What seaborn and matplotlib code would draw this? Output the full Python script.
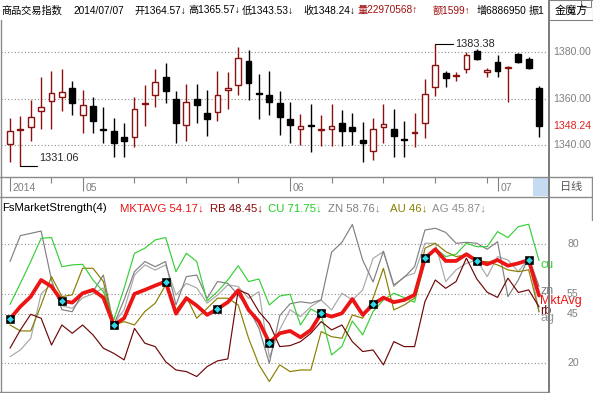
import numpy as np
import pandas as pd
import matplotlib
matplotlib.use('Agg')
import matplotlib.pyplot as plt
import matplotlib.transforms as mtrans
from matplotlib.lines import Line2D
from matplotlib.patches import Rectangle
import seaborn as sns

# daily candles, 2014-04-22 .. 2014-07-07
opens = [1340.4, 1346.7, 1348.0, 1354.6, 1358.9, 1360.6, 1364.5, 1353.2, 1356.9, 1347.1,
         1346.2, 1343.6, 1343.4, 1357.9, 1361.5, 1369.2, 1359.8, 1348.6, 1359.8, 1353.8,
         1354.3, 1363.7, 1366.1, 1376.1, 1362.6, 1361.5, 1358.1, 1351.2, 1346.9, 1348.9,
         1346.8, 1346.9, 1349.7, 1347.7, 1342.3, 1337.6, 1348.0, 1346.9, 1342.9, 1345.4,
         1349.5, 1365.2, 1371.0, 1369.8, 1372.7, 1380.7, 1371.5, 1375.7, 1373.2, 1379.3,
         1377.1, 1364.57]
highs = [1351.6, 1352.6, 1359.5, 1369.5, 1372.1, 1372.7, 1367.7, 1363.8, 1360.6, 1356.3,
         1351.6, 1349.5, 1360.6, 1366.0, 1372.7, 1375.3, 1363.4, 1366.4, 1366.4, 1363.8,
         1372.0, 1371.5, 1382.2, 1381.0, 1370.7, 1372.0, 1363.4, 1358.8, 1353.3, 1357.8,
         1353.0, 1357.6, 1355.2, 1353.8, 1350.0, 1351.8, 1357.6, 1355.5, 1350.5, 1353.8,
         1368.4, 1383.38, 1372.1, 1371.4, 1380.0, 1381.3, 1373.4, 1378.7, 1374.1, 1379.7,
         1377.8, 1365.57]
lows = [1333.0, 1331.06, 1342.0, 1347.2, 1347.2, 1354.9, 1353.2, 1345.2, 1345.4, 1340.9,
        1335.1, 1334.8, 1339.4, 1348.3, 1356.6, 1358.1, 1341.1, 1341.7, 1349.7, 1344.0,
        1350.6, 1355.8, 1361.8, 1359.5, 1351.5, 1353.2, 1344.5, 1341.1, 1340.1, 1337.2,
        1339.7, 1339.7, 1339.7, 1340.0, 1333.0, 1333.7, 1340.9, 1335.0, 1335.0, 1339.1,
        1343.0, 1361.2, 1365.2, 1367.7, 1371.0, 1376.7, 1369.2, 1369.2, 1358.8, 1375.3,
        1372.7, 1343.53]
closes = [1346.2, 1347.1, 1352.0, 1356.3, 1362.4, 1362.9, 1358.4, 1357.2, 1350.6, 1346.8,
          1340.9, 1341.7, 1355.5, 1358.3, 1367.2, 1363.5, 1349.7, 1358.6, 1357.5, 1351.2,
          1361.5, 1364.7, 1377.6, 1366.7, 1362.2, 1358.8, 1352.4, 1348.9, 1348.3, 1348.5,
          1347.2, 1348.5, 1346.3, 1346.3, 1340.9, 1346.9, 1349.0, 1344.2, 1342.5, 1345.8,
          1361.9, 1374.4, 1368.8, 1370.2, 1378.7, 1377.0, 1372.4, 1372.1, 1373.6, 1376.0,
          1373.4, 1348.24]

# FsMarketStrength(4)
mktavg = [42.4, 48.6, 53.6, 62.0, 58.7, 51.4, 50.6, 55.3, 57.0, 53.1, 39.3, 42.7, 55.0,
          57.0, 59.2, 61.2, 45.0, 52.8, 49.1, 44.4, 47.4, 50.8, 56.8, 46.9, 41.0, 30.4,
          35.1, 36.3, 33.1, 36.8, 45.2, 43.5, 45.2, 52.4, 44.4, 49.7, 53.1, 50.8, 51.9,
          54.5, 72.9, 77.5, 71.6, 71.6, 75.0, 71.6, 69.9, 72.1, 69.2, 70.4, 72.1, 54.17]
rb = [27.6, 36.8, 44.7, 42.7, 29.2, 39.3, 35.1, 39.3, 34.3, 27.6, 25.0, 21.7, 37.6,
      30.1, 28.4, 20.8, 16.6, 15.8, 13.3, 18.3, 21.2, 22.2, 57.0, 54.8, 46.0, 40.0,
      28.4, 28.9, 30.9, 35.1, 41.0, 36.8, 39.3, 30.9, 25.9, 26.7, 19.2, 30.9, 28.4,
      28.4, 51.1, 62.0, 57.8, 61.2, 73.0, 62.5, 55.8, 53.2, 62.9, 55.7, 57.0, 48.45]
cu = [49.7, 60.3, 71.3, 83.0, 83.4, 68.7, 69.6, 69.9, 62.0, 56.1, 41.8, 57.8, 75.5,
      78.0, 82.2, 83.4, 66.2, 75.5, 71.3, 51.4, 56.1, 62.0, 69.2, 61.2, 62.5, 49.4,
      53.9, 54.8, 39.3, 47.4, 44.4, 24.2, 28.5, 41.3, 34.3, 46.1, 51.9, 55.3, 53.1,
      50.8, 71.3, 78.0, 73.8, 75.0, 80.5, 78.8, 78.8, 86.4, 83.4, 88.9, 90.1, 71.75]
zn = [71.3, 84.4, 85.5, 86.7, 62.0, 47.0, 46.0, 55.3, 56.1, 64.5, 39.3, 52.0, 66.2,
      71.3, 68.7, 71.3, 49.4, 63.7, 64.5, 52.7, 61.2, 60.3, 54.4, 47.7, 37.6, 20.0,
      44.0, 50.0, 51.0, 50.3, 52.0, 76.0, 81.0, 90.0, 72.0, 61.0, 76.5, 59.5, 63.3,
      68.7, 87.2, 88.1, 86.0, 80.5, 81.0, 80.5, 77.5, 81.3, 53.6, 62.0, 73.3, 58.76]
au = [39.3, 36.3, 36.3, 49.4, 63.7, 53.6, 54.5, 67.9, 67.9, 61.2, 39.3, 41.0, 39.3,
      46.1, 50.3, 59.5, 46.9, 53.6, 42.7, 47.7, 52.8, 52.8, 49.4, 32.6, 19.2, 10.8,
      19.2, 15.8, 16.6, 16.6, 36.0, 33.4, 32.6, 44.4, 42.7, 52.8, 67.9, 46.9, 49.4,
      52.8, 78.0, 80.5, 76.3, 73.8, 74.6, 71.3, 71.3, 69.6, 67.1, 66.2, 67.1, 46.0]
ag = [23.3, 26.7, 32.6, 55.0, 60.0, 49.0, 47.7, 53.0, 55.0, 58.0, 40.0, 47.0, 64.5,
      69.6, 67.0, 69.6, 54.4, 60.3, 58.0, 50.3, 54.4, 59.5, 58.7, 52.7, 56.1, 23.0,
      37.0, 47.0, 43.5, 48.6, 51.9, 46.9, 55.3, 51.9, 57.0, 72.9, 76.3, 58.7, 63.7,
      65.4, 80.5, 80.5, 61.2, 67.1, 70.4, 72.1, 63.7, 73.8, 72.1, 66.2, 72.9, 45.87]

week_ticks = [4, 12, 17, 22, 31, 36, 41, 46]
month_ticks = [0, 7, 27, 47]
month_labels = ['2014', '05', '06', '07']
price_ticks = [1380, 1360, 1340]
strength_ticks = [80, 55, 45, 20]

UP = '#8b1010'
GRID = '#8c8c8c'
colors = {'AG': '#a8a8a8', 'ZN': '#808080', 'AU': '#8a7f00', 'CU': '#36cf36', 'RB': '#6e0808'}
MKT = '#ec1414'

sns.set_style('white')
plt.rcParams['font.family'] = ['Noto Sans CJK SC', 'DejaVu Sans']
NUM = ['Liberation Sans', 'DejaVu Sans']
HEAD = ['Liberation Sans', 'Noto Sans CJK SC', 'DejaVu Sans']

W, H = 593, 393
fig = plt.figure(figsize=(W / 100, H / 100), dpi=100)


def px_axes(x0, y0, x1, y1):
    return fig.add_axes([x0 / W, 1 - y1 / H, (x1 - x0) / W, (y1 - y0) / H])


def ftext(x, y, s, **kw):
    fig.text(x / W, 1 - y / H, s, **kw)


def fline(x0, y0, x1, y1, **kw):
    fig.add_artist(Line2D([x0 / W, x1 / W], [1 - y0 / H, 1 - y1 / H],
                          transform=fig.transFigure, **kw))


idx = np.arange(len(opens))
XLIM = (-0.868, 51.96)

# ---------- candles ----------
ax1 = px_axes(1, 20, 549, 177)
o, h, l, c = map(np.array, (opens, highs, lows, closes))
up = c >= o
ax1.vlines(idx, l, h, colors=np.where(up, UP, 'black'), linewidth=1, zorder=2)
lo = np.minimum(o, c)
hh = np.maximum(np.abs(c - o), 0.35)
ax1.bar(idx[up], hh[up], bottom=lo[up], width=0.56, color='white', edgecolor=UP, linewidth=1, zorder=3)
ax1.bar(idx[~up], hh[~up], bottom=lo[~up], width=0.56, color='black', edgecolor='black', linewidth=1, zorder=3)
for y in price_ticks:
    ax1.axhline(y, color=GRID, lw=0.8, ls=(0, (1, 2)), zorder=1)
ax1.set_xlim(*XLIM)
ax1.set_ylim(1326.4, 1393.9)
ax1.axis('off')
tr1 = mtrans.blended_transform_factory(fig.transFigure, ax1.transData)
for y in price_ticks:
    ax1.text(553 / W, y, f'{y:.2f}', transform=tr1, ha='left', va='center',
             fontsize=7.6, color='#808080', family=NUM)
ax1.text(553 / W, closes[-1], f'{closes[-1]:.2f}', transform=tr1, ha='left', va='center',
         fontsize=7.6, color='#e02020', family=NUM)
# extremes
ax1.plot([1, 2.6], [lows[1], lows[1]], color='black', lw=0.8)
ax1.text(2.85, lows[1] + 3.6, f'{lows[1]:.2f}', ha='left', va='center', fontsize=7.8, family=NUM)
ax1.plot([41, 42.7], [highs[41], highs[41]], color='black', lw=0.8)
ax1.text(42.9, highs[41], f'{highs[41]:.2f}', ha='left', va='center', fontsize=7.8, family=NUM)

# ---------- date strip ----------
axs = px_axes(1, 177, 549, 197)
axs.set_xlim(*XLIM)
axs.set_ylim(0, 1)
axs.axvspan(50.45, 51.96, ymin=0.05, ymax=0.98, color='#c5dbf2', lw=0)
axs.vlines(week_ticks, 0.72, 1, color='#808080', lw=0.8)
axs.vlines(month_ticks, 0.3, 1, color='#808080', lw=0.8)
for t, s in zip(month_ticks, month_labels):
    axs.text(t + 0.25, 0.45, s, ha='left', va='center', fontsize=7.6, color='#808080', family=NUM)
axs.axis('off')

# ---------- strength panel ----------
ax2 = px_axes(1, 197, 549, 392)
strength = pd.DataFrame({'idx': idx, 'AG': ag, 'ZN': zn, 'AU': au, 'CU': cu, 'RB': rb})
long = strength.melt(id_vars='idx', var_name='series', value_name='value')
sns.lineplot(data=long, x='idx', y='value', hue='series', palette=colors, linewidth=0.85,
             legend=False, ax=ax2)
sns.lineplot(x=idx, y=mktavg, color=MKT, linewidth=2.7, ax=ax2, legend=False)
mk = idx[::5]
mv = np.array(mktavg)[::5]
sns.scatterplot(x=mk, y=mv, marker='s', s=30, color='black', edgecolor='black', ax=ax2, zorder=5)
sns.scatterplot(x=mk, y=mv, marker='D', s=12, color='#30d8e8', linewidth=0, ax=ax2, zorder=6)
for y in strength_ticks:
    ax2.axhline(y, color=GRID, lw=0.8, ls=(0, (1, 2)), zorder=0)
ax2.set_xlim(*XLIM)
ax2.set_ylim(5.5, 103.85)
ax2.axis('off')
tr2 = mtrans.blended_transform_factory(fig.transFigure, ax2.transData)
for y in strength_ticks:
    ax2.text(567 / W, y, str(y), transform=tr2, ha='left', va='center', fontsize=7.6,
             color='#808080', family=NUM)
end_labels = [('cu', cu[-1] - 2.3, colors['CU']), ('zn', zn[-1] - 2.4, colors['ZN']),
              ('MktAvg', mktavg[-1] - 2.6, MKT), ('rb', rb[-1] - 2.3, colors['RB']),
              ('ag', ag[-1] - 2.9, '#999999')]
for s, y, col in end_labels:
    ax2.text(51.1, y, s, ha='left', va='center', fontsize=9, color=col, family=NUM,
             clip_on=False, zorder=7)

# legend row
leg = [(2, 'FsMarketStrength(4)', 'black'), (120, 'MKTAVG 54.17↓', MKT),
       (210, 'RB 48.45↓', '#8b0a0a'), (268, 'CU 71.75↓', '#1fcc1f'),
       (328, 'ZN 58.76↓', '#808080'), (390, 'AU 46↓', '#8a8000'), (432, 'AG 45.87↓', '#909090')]
for x, s, col in leg:
    ftext(x, 208, s, ha='left', va='center', fontsize=8.2, color=col, family=NUM)

# header
head = [(1, '商品交易指数', 'black'), (73, '2014/07/07', 'black'), (134, '开1364.57↓', 'black'),
        (188, '高1365.57↓', 'black'), (242, '低1343.53↓', 'black'), (303, '收1348.24↓', 'black'),
        (357, '量22970568↑', '#a01010'), (433, '额1599↑', '#a01010'), (477, '增6886950', 'black'),
        (529, '振1', 'black')]
for x, s, col in head:
    ftext(x, 10.5, s, ha='left', va='center', fontsize=7.3, color=col, family=HEAD, zorder=1)

# frame
fig.add_artist(Rectangle((549 / W, 1 - 19.5 / H), 43.5 / W, 19.5 / H, transform=fig.transFigure,
                         facecolor='white', edgecolor='#808080', lw=0.8, zorder=5))
fig.add_artist(Rectangle((581 / W, 1 - 7 / H), 10 / W, 7 / H, transform=fig.transFigure,
                         facecolor='white', edgecolor='#808080', lw=0.7, zorder=6))
ftext(571, 11.5, '金魔方', ha='center', va='center', fontsize=8, color='black', zorder=7)
GR = dict(color='#8a8a8a', lw=1.0)
fline(0.7, 20, 0.7, 392, **GR)
fline(549, 0, 549, 393, color='#7a7a7a', lw=1.4)
fline(0, 177, 593, 177, **GR)
fline(0, 197, 593, 197, **GR)
fline(0, 392, 549, 392, **GR)
fline(592.3, 177, 592.3, 220, **GR)
ftext(571, 187, '日线', ha='center', va='center', fontsize=8, color='#555555')

fig.savefig('out.png', dpi=100)
